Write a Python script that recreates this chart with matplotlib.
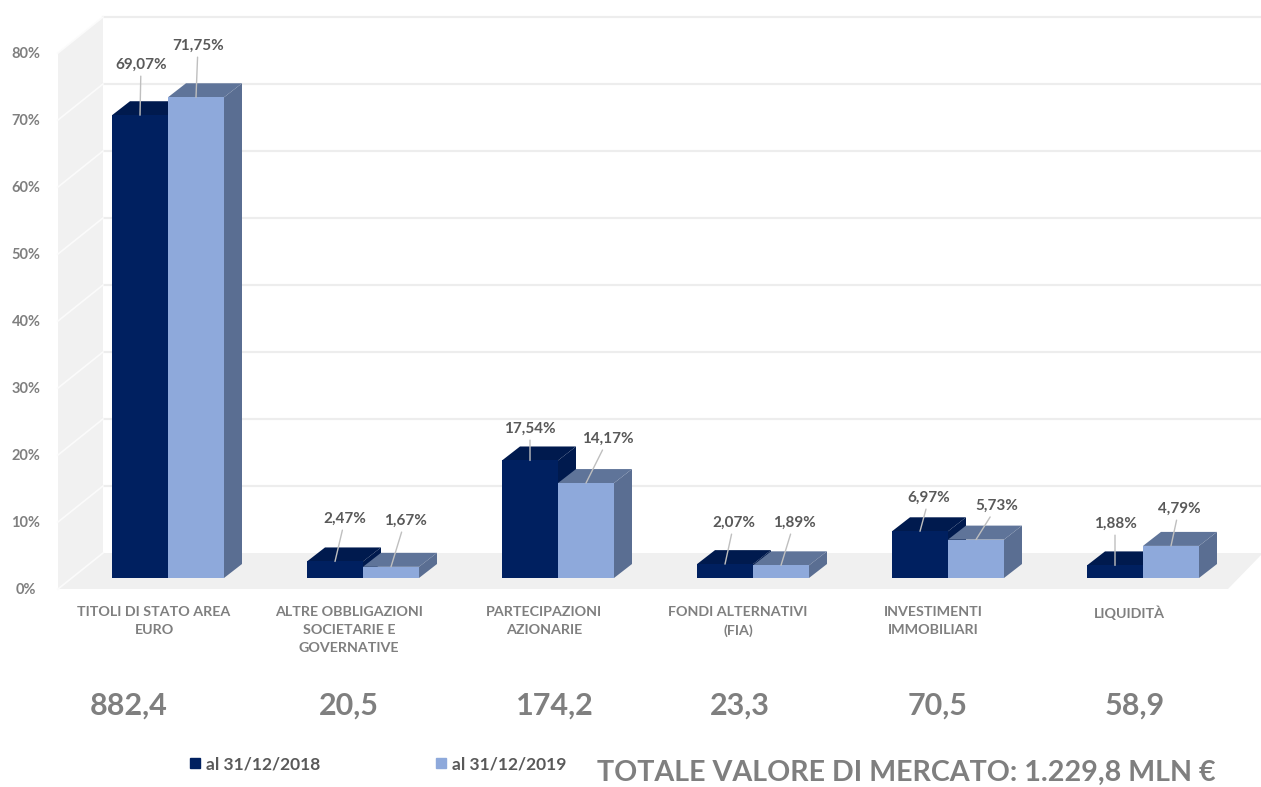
import matplotlib
matplotlib.use('Agg')
import matplotlib.pyplot as plt
from matplotlib.lines import Line2D
from matplotlib.patches import Polygon

categories = ['TITOLI DI STATO AREA\nEURO', 'ALTRE OBBLIGAZIONI\nSOCIETARIE E\nGOVERNATIVE',
              'PARTECIPAZIONI\nAZIONARIE', 'FONDI ALTERNATIVI\n(FIA)',
              'INVESTIMENTI\nIMMOBILIARI', 'LIQUIDITÀ']
values_2018 = [69.07, 2.47, 17.54, 2.07, 6.97, 1.88]
values_2019 = [71.75, 1.67, 14.17, 1.89, 5.73, 4.79]
labels_2018 = ['69,07%', '2,47%', '17,54%', '2,07%', '6,97%', '1,88%']
labels_2019 = ['71,75%', '1,67%', '14,17%', '1,89%', '5,73%', '4,79%']
market_values = ['882,4', '20,5', '174,2', '23,3', '70,5', '58,9']
y_ticks = [0, 10, 20, 30, 40, 50, 60, 70, 80]

W, H = 1261, 787
PX_X = 195.0   # pixels per category
PX_Y = 6.7     # pixels per percentage point
X0, Y0 = 168, 578

# label spots in pixels of the image
label_x_2018 = [141, 345, 530, 734, 929, 1115]
label_y_2018 = [65, 519, 429, 523, 498, 524]
label_x_2019 = [198, 405, 608, 794, 997, 1179]
label_y_2019 = [46, 521, 439, 523, 506, 509]
cat_x = [154, 349, 544, 738, 933, 1129]
big_x = [129, 349, 555, 740, 938, 1135]

DARK, DARK_TOP, DARK_SIDE = '#002060', '#001A4E', '#001A4E'
LIGHT, LIGHT_TOP, LIGHT_SIDE = '#8EA9DB', '#5F7499', '#5A6E92'
GREY = '#7F7F7F'
FONT = 'Lato'

fig = plt.figure(figsize=(W / 100, H / 100), dpi=100, facecolor='white')
ax = fig.add_axes([0, 0, 1, 1])
ax.set_xlim(-X0 / PX_X, (W - X0) / PX_X)
ax.set_ylim((Y0 - H) / PX_Y, Y0 / PX_Y)
ax.axis('off')

bar_w = 56 / PX_X
dx, dy = 18 / PX_X, 14 / PX_Y

# walls and floor of the box
wall_l = -110 / PX_X
wall_r = (1228 - X0) / PX_X
back_l = (103 - X0) / PX_X
back_r = (1263 - X0) / PX_X
front_0 = -11 / PX_Y
back_0 = 25 / PX_Y
ax.add_patch(Polygon([(wall_l, front_0), (wall_r, front_0), (back_r, back_0), (back_l, back_0)],
                     fc='#F0F0F0', ec='none', zorder=1))
ax.add_patch(Polygon([(wall_l, front_0), (back_l, back_0), (back_l, back_0 + 80), (wall_l, front_0 + 80)],
                     fc='#F1F1F1', ec='none', zorder=1))
for t in y_ticks:
    if t > 0:
        ax.plot([back_l, back_r], [back_0 + t, back_0 + t], color='#EDEDED', lw=1.6, zorder=1.5)
    ax.plot([wall_l, back_l], [front_0 + t, back_0 + t], color='#FBFBFB', lw=1.2, zorder=1.5)
    ax.text((26 - X0) / PX_X, front_0 + t - 0.2, f'{t}%', ha='center', va='center',
            fontsize=10.5, color=GREY, fontweight='bold', family=FONT)


def bar3d(left, v, front, top, side, z):
    right = left + bar_w
    ax.add_patch(Polygon([(right, 0), (right + dx, dy), (right + dx, v + dy), (right, v)], fc=side, ec='none', zorder=z))
    ax.add_patch(Polygon([(left, v), (left + dx, v + dy), (right + dx, v + dy), (right, v)], fc=top, ec='none', zorder=z))
    ax.add_patch(Polygon([(left, 0), (right, 0), (right, v), (left, v)], fc=front, ec='none', zorder=z + 0.1))


def data_label(text, cx, v, px, py):
    ax.annotate(text, xy=(cx, v), xytext=(px / W, 1 - py / H), textcoords='figure fraction',
                ha='center', va='center', fontsize=11, color='#595959', fontweight='bold', family=FONT,
                arrowprops=dict(arrowstyle='-', color='#BFBFBF', lw=1, shrinkA=1, shrinkB=0), zorder=10)


for i in range(len(categories)):
    bar3d(i - bar_w, values_2018[i], DARK, DARK_TOP, DARK_SIDE, 3)
    bar3d(i, values_2019[i], LIGHT, LIGHT_TOP, LIGHT_SIDE, 4)
    data_label(labels_2018[i], i - bar_w / 2, values_2018[i], label_x_2018[i], label_y_2018[i])
    data_label(labels_2019[i], i + bar_w / 2, values_2019[i], label_x_2019[i], label_y_2019[i])
    fig.text(cat_x[i] / W, 1 - 606 / H, categories[i], ha='center', va='top', fontsize=10.3, color=GREY,
             fontweight='bold', family=FONT, linespacing=1.6)
    fig.text(big_x[i] / W, 1 - 706 / H, market_values[i], ha='center', va='center', fontsize=22, color=GREY,
             fontweight='bold', family=FONT)

fig.text(906 / W, 1 - 773 / H, 'TOTALE VALORE DI MERCATO: 1.229,8 MLN €', ha='center', va='center',
         fontsize=20.6, color=GREY, fontweight='bold', family=FONT)

handles = [Line2D([], [], ls='', marker='s', ms=7.5, color=DARK),
           Line2D([], [], ls='', marker='s', ms=7.5, color=LIGHT)]
ax.legend(handles, ['al 31/12/2018', 'al 31/12/2019'], ncol=2, frameon=False, loc='center left',
          bbox_to_anchor=(176 / W, 1 - 764.5 / H), borderpad=0, handletextpad=0, handlelength=1.2,
          columnspacing=6.4, prop={'family': FONT, 'weight': 'bold', 'size': 12.5}, labelcolor='#595959')

fig.savefig('out.png', dpi=100)
